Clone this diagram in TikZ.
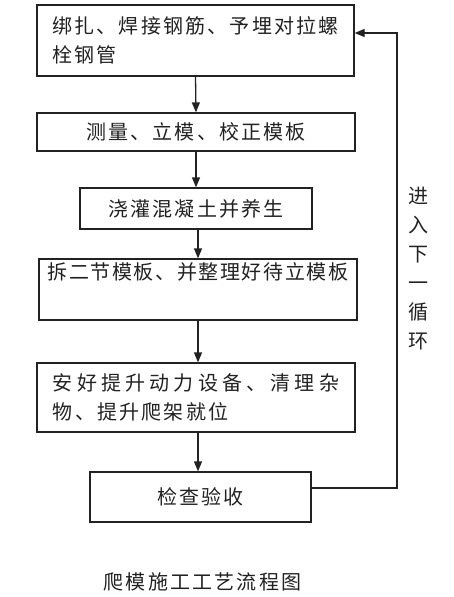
\documentclass[tikz,border=0pt]{standalone}
\usepackage{fontspec}
\usetikzlibrary{arrows.meta}
\newfontfamily\cjk[LetterSpace=11]{Noto Sans CJK SC}
\newfontfamily\cjkw[LetterSpace=21]{Noto Sans CJK SC}
\newfontfamily\cjkn[LetterSpace=8]{Noto Sans CJK SC}
\definecolor{ink}{HTML}{222222}
\begin{document}
\begin{tikzpicture}[x=1pt,y=-1pt,
  box/.style={draw=ink,line width=1.3pt,rectangle,inner sep=0pt,
    font=\cjk\fontsize{20pt}{29pt}\selectfont,text=ink},
  lbl/.style={inner sep=0pt,font=\cjk\fontsize{20pt}{29pt}\selectfont,text=ink},
  arr/.style={draw=ink,line width=1.3pt,-{Triangle[length=10pt,width=8pt]}}]
\useasboundingbox[fill=white] (0,0) rectangle (454,597);
\node[box,minimum width=317pt,minimum height=71pt,align=left] (b1) at (195.5,40.5)
  {绑扎、焊接钢筋、予埋对拉螺\\栓钢管};
\node[box,minimum width=318pt,minimum height=38pt] (b2) at (196,132) {测量、立模、校正模板};
\node[box,minimum width=232pt,minimum height=41pt] (b3) at (196,208.5) {浇灌混凝土并养生};
\node[box,minimum width=318pt,minimum height=61pt,align=center] (b4) at (198,289.5)
  {{\cjkn 拆二节模板、并整理好待立模板}\\\strut};
\node[box,minimum width=318pt,minimum height=69pt,align=left] (b5) at (196,397.5)
  {{\cjkw 安好提升动力设备、清理杂}\\物、提升爬架就位};
\node[box,minimum width=221pt,minimum height=50pt] (b6) at (200.5,497) {检查验收};
\coordinate (c1) at (397,488);
\coordinate (c2) at (397,33);
\coordinate (c3) at (198,0);
\draw[arr] (b1.south) -- (b2.north);
\draw[arr] (b2.south) -- (b3.north);
\draw[arr] (b3.south -| c3) -- (b4.north -| c3);
\draw[arr] (b4.south -| c3) -- (b5.north -| c3);
\draw[arr] (b5.south -| c3) -- (b6.north -| c3);
\draw[arr] (b6.east |- c1) -- (c1) -- (c2) -- (b1.east |- c2);
\node[lbl,align=center] (loop) at (418,268.5) {进\\入\\下\\一\\循\\环};
\node[lbl] (cap) at (202.5,582) {爬模施工工艺流程图};
\end{tikzpicture}
\end{document}
